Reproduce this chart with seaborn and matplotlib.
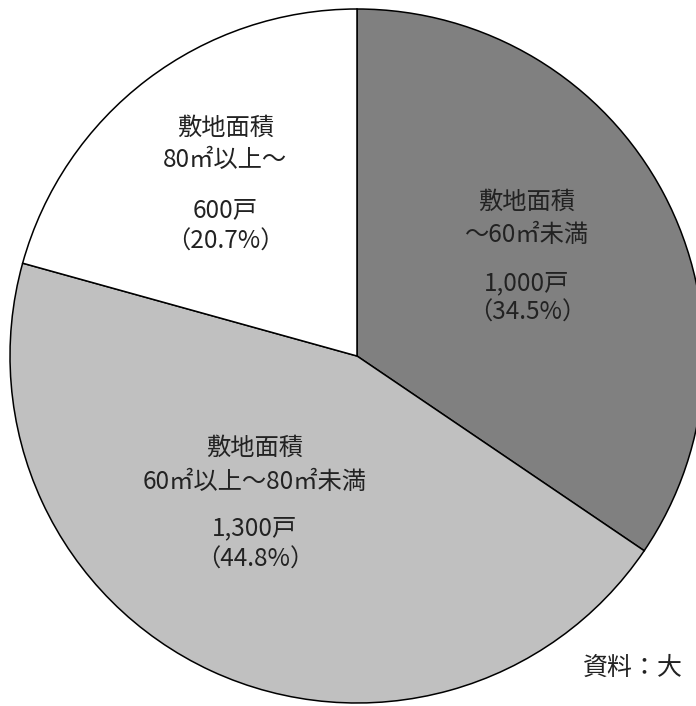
import matplotlib
matplotlib.use("Agg")
import matplotlib.pyplot as plt
import seaborn as sns

sns.set_theme(style="white")
plt.rcParams["font.family"] = ["Noto Sans CJK JP", "DejaVu Sans"]

# Housing units by lot area
categories = ["敷地面積\n～60㎡未満", "敷地面積\n60㎡以上～80㎡未満", "敷地面積\n80㎡以上～"]
units = [1000, 1300, 600]
unit_labels = ["1,000戸", "1,300戸", "600戸"]
share_labels = ["（34.5%）", "（44.8%）", "（20.7%）"]
colors = ["#808080", "#c0c0c0", "#ffffff"]
source_text = "資料：大"

# label anchors in data units: x, and y of each of the four lines
label_x = [0.49, -0.294, -0.38]
label_y = [
    (0.444, 0.349, 0.210, 0.124),
    (-0.265, -0.363, -0.496, -0.588),
    (0.657, 0.565, 0.421, 0.329),
]

fig = plt.figure(figsize=(6.96, 7.06), dpi=100)
ax = fig.add_axes([10 / 696, 3 / 706, 694 / 696, 694 / 706])
ax.pie(units, colors=colors, startangle=90, counterclock=False, radius=1.0,
       wedgeprops=dict(edgecolor="black", linewidth=1.1))
ax.set_xlim(-1, 1)
ax.set_ylim(-1, 1)
ax.set_aspect("equal")
ax.axis("off")

for cat, cnt, shr, x, ys in zip(categories, unit_labels, share_labels, label_x, label_y):
    lines = cat.split("\n") + [cnt, shr]
    for line, y in zip(lines, ys):
        ax.text(x, y, line, ha="center", va="center", fontsize=17.5, color="#222222")

fig.text(583 / 696, 1 - 668 / 706, source_text, ha="left", va="center",
         fontsize=18, color="#222222")

fig.savefig("out.png", dpi=100)
